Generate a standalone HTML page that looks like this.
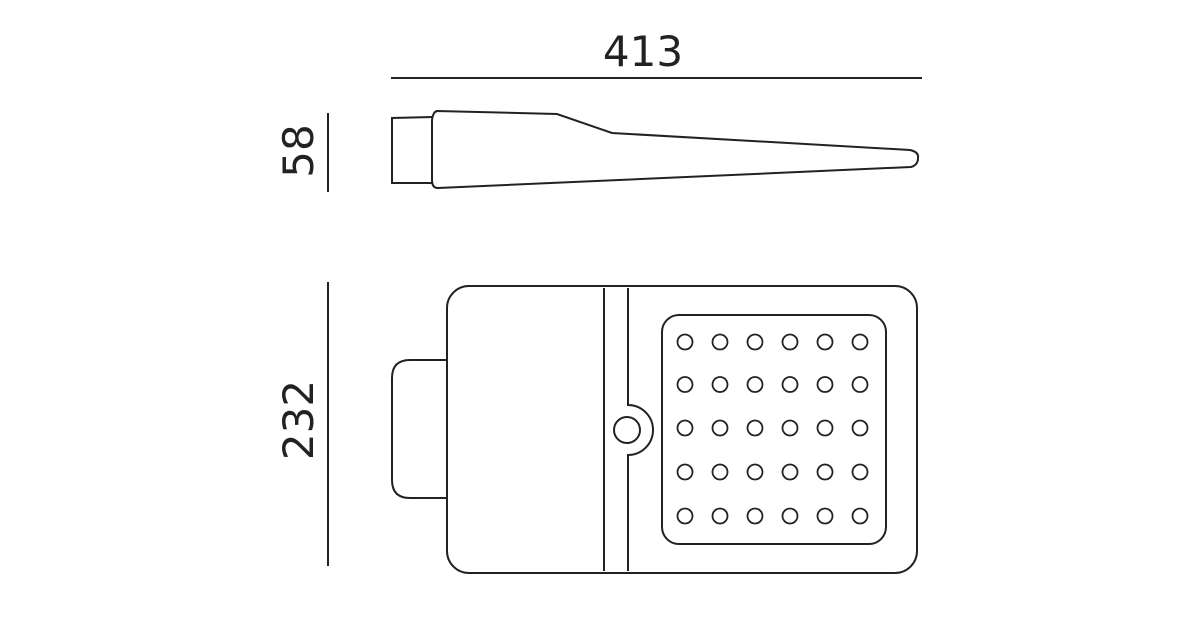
<!DOCTYPE html>
<html><head><style>html,body{margin:0;padding:0;background:#fff;}svg{display:block}</style></head>
<body>
<svg width="1200" height="630" viewBox="0 0 1200 630" xmlns="http://www.w3.org/2000/svg">
<g fill="none" stroke="#222" stroke-width="2">
<line x1="391" y1="78" x2="922" y2="78"/>
<line x1="328" y1="113" x2="328" y2="192"/>
<line x1="328" y1="282" x2="328" y2="566"/>
<!-- side view -->
<path d="M433 117 L392 118 L392 183 L433 183"/>
<path d="M437 111 L557 114 L612 133 L910 150 Q919 152 918 158 Q918 165 911 167 L438 188 Q432 188 432 180 L432 120 Q433 112 437 111 Z"/>
<!-- top view -->
<rect x="447" y="286" width="470" height="287" rx="22"/>
<path d="M447 360 L410 360 Q392 360 392 378 L392 480 Q392 498 410 498 L447 498"/>
<line x1="604" y1="288" x2="604" y2="571"/>
<path d="M628 288 L628 405 A25 25 0 0 1 628 455 L628 571"/>
<circle cx="627" cy="430" r="13"/>
<rect x="662" y="315" width="224" height="229" rx="17"/>
</g>
<g fill="none" stroke="#222" stroke-width="1.8">
<g id="row">
<circle cx="685" cy="342" r="7.5"/><circle cx="720" cy="342" r="7.5"/><circle cx="755" cy="342" r="7.5"/><circle cx="790" cy="342" r="7.5"/><circle cx="825" cy="342" r="7.5"/><circle cx="860" cy="342" r="7.5"/>
</g>
<use href="#row" y="42.5"/><use href="#row" y="86"/><use href="#row" y="130"/><use href="#row" y="174"/>
</g>
<g font-family="'DejaVu Sans','Liberation Sans',sans-serif" font-size="42" fill="#222">
<text x="643" y="66" text-anchor="middle">413</text>
<text transform="translate(313,151) rotate(-90)" text-anchor="middle">58</text>
<text transform="translate(313,420) rotate(-90)" text-anchor="middle">232</text>
</g>
</svg>
</body></html>
